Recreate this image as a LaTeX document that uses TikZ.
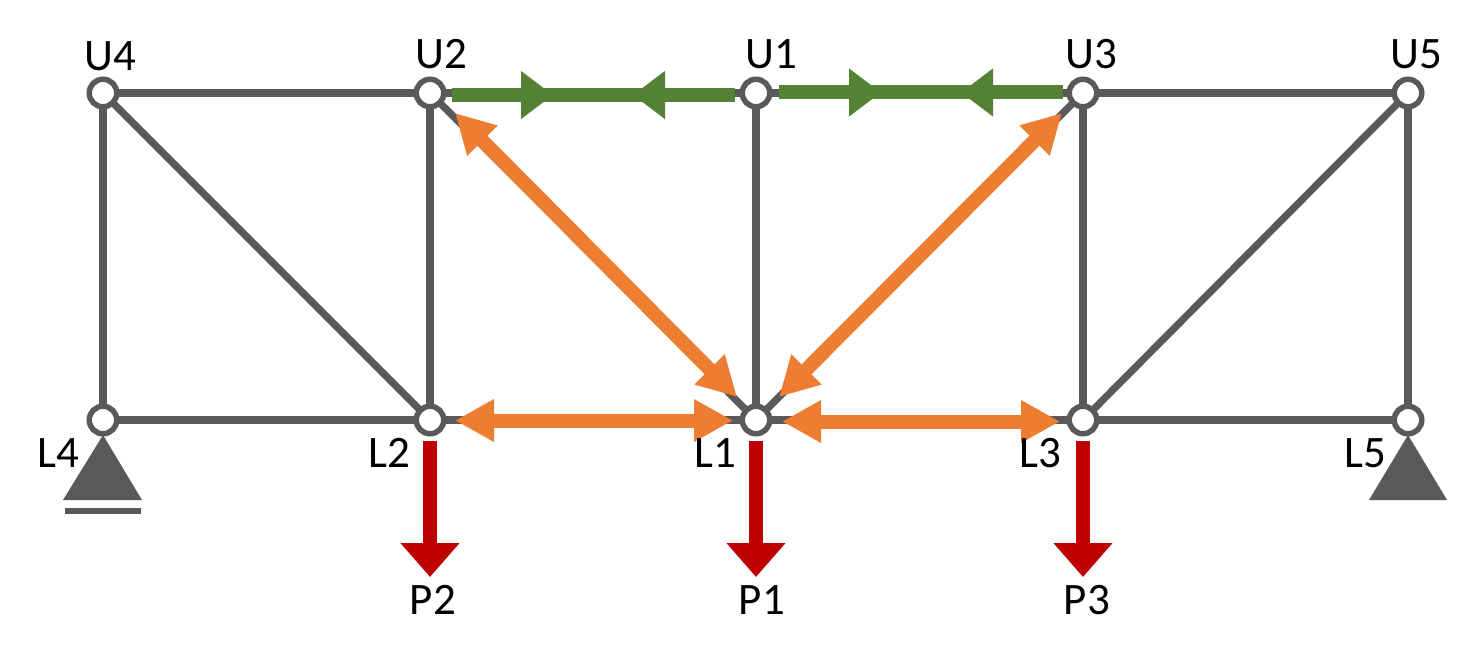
\documentclass[tikz,border=0pt]{standalone}
\usepackage{fontspec}
\setmainfont{Carlito}
\usetikzlibrary{arrows.meta,decorations.markings}
\definecolor{memgray}{HTML}{595959}
\definecolor{tens}{HTML}{ED7D31}
\definecolor{comp}{HTML}{548235}
\definecolor{load}{HTML}{C00000}
\tikzset{
  joint/.style={circle,draw=memgray,fill=white,line width=5.5pt,minimum size=27.5pt,inner sep=0pt},
  member/.style={draw=memgray,line width=7.2pt},
  tensbar/.style={draw=tens,line width=14pt,{Triangle[length=39pt,width=40pt]}-{Triangle[length=39pt,width=40pt]}},
  compbar/.style={draw=comp,line width=14pt},
  loadbar/.style={draw=load,line width=14pt,-{Triangle[length=34pt,width=57pt]}},
  support/.style={fill=memgray,draw=none},
  lbl/.style={inner sep=0pt,text=black,font=\fontsize{45pt}{45pt}\selectfont},
}
\begin{document}
\begin{tikzpicture}[x=1pt,y=-1pt]
\useasboundingbox (0,0) rectangle (1472,655);
\coordinate (cU4) at (103,93); \coordinate (cU2) at (430,93); \coordinate (cU1) at (756,93);
\coordinate (cU3) at (1083,93); \coordinate (cU5) at (1408,93);
\coordinate (cL4) at (103,420); \coordinate (cL2) at (430,420); \coordinate (cL1) at (756,420);
\coordinate (cL3) at (1083,420); \coordinate (cL5) at (1408,420);
% members
\draw[member] (cU4)--(cU5);
\draw[member] (cL4)--(cL5);
\draw[member] (cU4)--(cL4);
\draw[member] (cU2)--(cL2);
\draw[member] (cU1)--(cL1);
\draw[member] (cU3)--(cL3);
\draw[member] (cU5)--(cL5);
\draw[member] (cU4)--(cL2);
\draw[member] (cU5)--(cL3);
\draw[member] (cU2)--(cL1);
\draw[member] (cU3)--(cL1);
% joints
\node[joint] (U4) at (cU4) {}; \node[joint] (U2) at (cU2) {}; \node[joint] (U1) at (cU1) {};
\node[joint] (U3) at (cU3) {}; \node[joint] (U5) at (cU5) {};
\node[joint] (L4) at (cL4) {}; \node[joint] (L2) at (cL2) {}; \node[joint] (L1) at (cL1) {};
\node[joint] (L3) at (cL3) {}; \node[joint] (L5) at (cL5) {};
% supports
\fill[support] (103,435)--(142,500)--(63,500)--cycle;
\fill[support] (1408,435)--(1447,500)--(1369,500)--cycle;
\fill[support] (65,508) rectangle (141,514);
% compression
\coordinate (g1a) at (452,95); \coordinate (g1b) at (735,95);
\coordinate (g2a) at (779,92.5); \coordinate (g2b) at (1063,92.5);
\draw[compbar,postaction={decorate},decoration={markings,
  mark=at position 101pt with {\arrow[comp]{Triangle[length=32pt,width=46pt]}},
  mark=at position 213pt with {\arrow[comp]{Triangle[length=32pt,width=46pt,reversed]}}}] (g1a)--(g1b);
\draw[compbar,postaction={decorate},decoration={markings,
  mark=at position 102pt with {\arrow[comp]{Triangle[length=32pt,width=46pt]}},
  mark=at position 214pt with {\arrow[comp]{Triangle[length=32pt,width=46pt,reversed]}}}] (g2a)--(g2b);
% tension
\coordinate (o1a) at (455,113); \coordinate (o1b) at (737,397);
\coordinate (o2a) at (1062,113); \coordinate (o2b) at (779,397);
\coordinate (o3a) at (455,420.5); \coordinate (o3b) at (733,420.5);
\coordinate (o4a) at (782,421.5); \coordinate (o4b) at (1060,421.5);
\draw[tensbar] (o1a)--(o1b);
\draw[tensbar] (o2a)--(o2b);
\draw[tensbar] (o3a)--(o3b);
\draw[tensbar] (o4a)--(o4b);
% loads
\coordinate (t2) at (430,577); \coordinate (t1) at (756,577); \coordinate (t3) at (1083,577);
\draw[loadbar,shorten <=21pt] (L2.center)--(t2);
\draw[loadbar,shorten <=21pt] (L1.center)--(t1);
\draw[loadbar,shorten <=21pt] (L3.center)--(t3);
% labels
\node[lbl] (tU4) at (110,56) {U4};
\node[lbl] (tU2) at (441,54) {U2};
\node[lbl] (tU1) at (771,54) {U1};
\node[lbl] (tU3) at (1091,54) {U3};
\node[lbl] (tU5) at (1416,54) {U5};
\node[lbl] (tL4) at (58,453) {L4};
\node[lbl] (tL2) at (389,453) {L2};
\node[lbl] (tL1) at (715,453) {L1};
\node[lbl] (tL3) at (1040,453) {L3};
\node[lbl] (tL5) at (1365,453) {L5};
\node[lbl] (tP2) at (433,600) {P2};
\node[lbl] (tP1) at (762,600) {P1};
\node[lbl] (tP3) at (1087,600) {P3};
\end{tikzpicture}
\end{document}
